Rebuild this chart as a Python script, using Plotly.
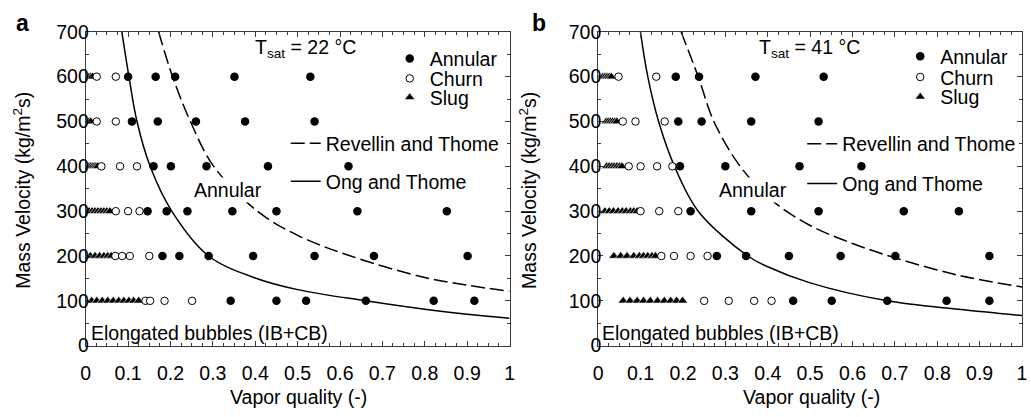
import plotly.graph_objects as go

W, H = 1031, 417

# ---------------- data: panel a (Tsat = 22 C) ----------------
A_ANN_X = [0.100, 0.165, 0.211, 0.351, 0.530,
           0.109, 0.170, 0.260, 0.376, 0.540,
           0.160, 0.201, 0.285, 0.430, 0.620,
           0.146, 0.191, 0.240, 0.346, 0.450, 0.641, 0.852,
           0.181, 0.221, 0.290, 0.395, 0.540, 0.680, 0.901,
           0.342, 0.450, 0.520, 0.661, 0.821, 0.917]
A_ANN_G = [600, 600, 600, 600, 600,
           500, 500, 500, 500, 500,
           400, 400, 400, 400, 400,
           300, 300, 300, 300, 300, 300, 300,
           200, 200, 200, 200, 200, 200, 200,
           100, 100, 100, 100, 100, 100]

A_CH_X = [0.026, 0.071,
          0.026, 0.071,
          0.037, 0.081, 0.121,
          0.071, 0.100, 0.127,
          0.070, 0.086, 0.104, 0.150,
          0.141, 0.152, 0.186, 0.251]
A_CH_G = [600, 600,
          500, 500,
          400, 400, 400,
          300, 300, 300,
          200, 200, 200, 200,
          100, 100, 100, 100]

A_SL_X = [0.008, 0.012, 0.016,
          0.008, 0.012,
          0.008, 0.012, 0.016, 0.020, 0.024, 0.028,
          0.008, 0.015, 0.022, 0.029, 0.036, 0.043, 0.050, 0.057,
          0.011, 0.022, 0.033, 0.043, 0.052, 0.060,
          0.014, 0.026, 0.039, 0.052, 0.065, 0.078, 0.090, 0.102, 0.113, 0.125]
A_SL_G = [600, 600, 600,
          500, 500,
          400, 400, 400, 400, 400, 400,
          300, 300, 300, 300, 300, 300, 300, 300,
          200, 200, 200, 200, 200, 200,
          100, 100, 100, 100, 100, 100, 100, 100, 100, 100]

A_ONG_X = [0.0853, 0.102, 0.121, 0.152, 0.203, 0.290, 0.400, 0.500, 0.661, 0.800, 0.900, 1.000]
A_ONG_G = [700, 600, 500, 400, 300, 200, 151, 125, 100, 81, 70, 61]
A_REV_X = [0.172, 0.205, 0.247, 0.302, 0.405, 0.500, 0.625, 0.800, 0.900, 1.000]
A_REV_G = [700, 600, 500, 400, 300, 246, 200, 152, 135, 121]

# ---------------- data: panel b (Tsat = 41 C) ----------------
B_ANN_X = [0.183, 0.238, 0.371, 0.532,
           0.189, 0.244, 0.361, 0.520,
           0.193, 0.300, 0.475, 0.621,
           0.218, 0.361, 0.520, 0.721, 0.851,
           0.280, 0.349, 0.450, 0.572, 0.701, 0.923,
           0.460, 0.551, 0.682, 0.822, 0.923]
B_ANN_G = [600, 600, 600, 600,
           500, 500, 500, 500,
           400, 400, 400, 400,
           300, 300, 300, 300, 300,
           200, 200, 200, 200, 200, 200,
           100, 100, 100, 100, 100]

B_CH_X = [0.048, 0.137,
          0.058, 0.088, 0.157,
          0.072, 0.100, 0.139, 0.175,
          0.100, 0.144, 0.189,
          0.149, 0.179, 0.218, 0.258,
          0.250, 0.308, 0.368, 0.409]
B_CH_G = [600, 600,
          500, 500, 500,
          400, 400, 400, 400,
          300, 300, 300,
          200, 200, 200, 200,
          100, 100, 100, 100]

B_SL_X = [0.011, 0.016, 0.021, 0.026, 0.031,
          0.019, 0.024, 0.029, 0.034, 0.039, 0.044,
          0.020, 0.026, 0.032, 0.038, 0.044, 0.050, 0.056,
          0.016, 0.026, 0.036, 0.047, 0.057, 0.066, 0.076, 0.084, 0.092,
          0.037, 0.053, 0.068, 0.084, 0.097, 0.107, 0.117, 0.127, 0.135,
          0.059, 0.075, 0.092, 0.107, 0.123, 0.140, 0.156, 0.171, 0.185, 0.199]
B_SL_G = [600, 600, 600, 600, 600,
          500, 500, 500, 500, 500, 500,
          400, 400, 400, 400, 400, 400, 400,
          300, 300, 300, 300, 300, 300, 300, 300, 300,
          200, 200, 200, 200, 200, 200, 200, 200, 200,
          100, 100, 100, 100, 100, 100, 100, 100, 100, 100]

B_ONG_X = [0.0997, 0.117, 0.1425, 0.180, 0.236, 0.353, 0.400, 0.500, 0.682, 0.850, 1.000]
B_ONG_G = [700, 600, 500, 400, 300, 200, 176, 140, 100, 81, 67]
B_REV_X = [0.1955, 0.236, 0.273, 0.335, 0.410, 0.500, 0.600, 0.700, 0.850, 1.000]
B_REV_G = [700, 600, 500, 400, 324, 268, 228, 196, 157, 131]

X_TICKS = [0, 0.1, 0.2, 0.3, 0.4, 0.5, 0.6, 0.7, 0.8, 0.9, 1]
X_TICKTEXT = ["0", "0.1", "0.2", "0.3", "0.4", "0.5", "0.6", "0.7", "0.8", "0.9", "1"]
Y_TICKS = [0, 100, 200, 300, 400, 500, 600, 700]

LEG_NAMES = ["Annular", "Churn", "Slug", "Revellin and Thome", "Ong and Thome"]
TSAT = ["22", "41"]
PANEL = ["a", "b"]

# ---------------- styling ----------------
FONT = "Liberation Sans, Arial, sans-serif"
FS = 19.5
FRAME = "#3a3a3a"
AX_L = [81.5, 599.0]   # left edge px of each panel
AX_W = 428.0
Y_TOP, Y_BOT = 22.0, 353.3


def px(x):
    return x / W


def py(y):
    return 1 - y / H


fig = go.Figure()

panels = [
    (A_ANN_X, A_ANN_G, A_CH_X, A_CH_G, A_SL_X, A_SL_G, A_ONG_X, A_ONG_G, A_REV_X, A_REV_G),
    (B_ANN_X, B_ANN_G, B_CH_X, B_CH_G, B_SL_X, B_SL_G, B_ONG_X, B_ONG_G, B_REV_X, B_REV_G),
]

for i, (ax_, ag_, cx_, cg_, sx_, sg_, ox_, og_, rx_, rg_) in enumerate(panels):
    xa = "x" if i == 0 else "x2"
    ya = "y" if i == 0 else "y2"
    base = 1 + 5 * i

    def lg(k, base=base):
        n = base + k
        return "legend" if n == 1 else f"legend{n}"

    fig.add_trace(go.Scatter(x=rx_, y=rg_, xaxis=xa, yaxis=ya, mode="lines",
                             line=dict(color="black", width=1.5, dash="14px,5px", shape="spline", smoothing=1.0),
                             name=LEG_NAMES[3], legend=lg(3)))
    fig.add_trace(go.Scatter(x=ox_, y=og_, xaxis=xa, yaxis=ya, mode="lines",
                             line=dict(color="black", width=1.5, shape="spline", smoothing=1.0),
                             name=LEG_NAMES[4], legend=lg(4)))
    fig.add_trace(go.Scatter(x=sx_, y=sg_, xaxis=xa, yaxis=ya, mode="markers",
                             marker=dict(symbol="triangle-up", size=9, color="black",
                                         line=dict(color="white", width=0.6)),
                             name=LEG_NAMES[2], legend=lg(2)))
    fig.add_trace(go.Scatter(x=cx_, y=cg_, xaxis=xa, yaxis=ya, mode="markers",
                             marker=dict(symbol="circle", size=7.5, color="white",
                                         line=dict(color="black", width=1)),
                             name=LEG_NAMES[1], legend=lg(1)))
    fig.add_trace(go.Scatter(x=ax_, y=ag_, xaxis=xa, yaxis=ya, mode="markers",
                             marker=dict(symbol="circle", size=8.5, color="black", line=dict(width=0)),
                             name=LEG_NAMES[0], legend=lg(0)))

axis_common = dict(showline=True, linecolor=FRAME, linewidth=1, mirror="allticks",
                   ticks="inside", tickcolor=FRAME, tickwidth=1, ticklen=5,
                   showgrid=False, zeroline=False,
                   tickfont=dict(family=FONT, size=FS, color="black"))

for i in range(2):
    xd = [px(AX_L[i]), px(AX_L[i] + AX_W)]
    yd = [py(Y_BOT), py(Y_TOP)]
    xkey = "xaxis" if i == 0 else "xaxis2"
    ykey = "yaxis" if i == 0 else "yaxis2"
    fig.update_layout(**{
        xkey: dict(axis_common, domain=xd, range=[0, 1], tickvals=X_TICKS, ticktext=X_TICKTEXT,
                   anchor="y" if i == 0 else "y2", ticklabelstandoff=10,
                   minor=dict(ticks="inside", dtick=0.025, tick0=0, ticklen=3, tickcolor=FRAME, showgrid=False)),
        ykey: dict(axis_common, domain=yd, range=[0, 700], tickvals=Y_TICKS,
                   anchor="x" if i == 0 else "x2", ticklabelstandoff=-8,
                   minor=dict(ticks="inside", dtick=50, tick0=0, ticklen=3, tickcolor=FRAME, showgrid=False)),
    })

# legends: one entry per legend box, placed like the reference
SPOTS = [
    [(388.5, 50.5), (388.5, 71.5), (388.5, 91.5), (283.5, 140.0), (283.5, 180.0)],
    [(904.0, 48.0), (904.0, 70.0), (904.0, 91.0), (805.0, 140.5), (805.0, 182.5)],
]
leg_layout = {}
for i in range(2):
    for k, (lx, ly) in enumerate(SPOTS[i]):
        n = 1 + 5 * i + k
        key = "legend" if n == 1 else f"legend{n}"
        leg_layout[key] = dict(x=px(lx), y=py(ly), xanchor="left", yanchor="middle",
                               xref="paper", yref="paper", bgcolor="rgba(0,0,0,0)",
                               borderwidth=0, itemwidth=30, tracegroupgap=0,
                               font=dict(family=FONT, size=FS, color="black"))
fig.update_layout(**leg_layout)

ann = []
for i in range(2):
    cx = AX_L[i] + AX_W / 2
    # panel letter
    ann.append(dict(x=px([9, 530][i]), y=py(13), xref="paper", yref="paper", text=f"<b>{PANEL[i]}</b>",
                    showarrow=False, xanchor="left", yanchor="middle",
                    font=dict(family=FONT, size=23, color="black")))
    # y title
    ann.append(dict(x=px([17, 528][i]), y=py(189), xref="paper", yref="paper",
                    text="Mass Velocity (kg/m<sup>2</sup>s)", textangle=-90, showarrow=False,
                    xanchor="center", yanchor="middle", font=dict(family=FONT, size=FS, color="black")))
    # x title
    ann.append(dict(x=px(cx + 1), y=py(408), xref="paper", yref="paper", text="Vapor quality (-)",
                    showarrow=False, xanchor="center", yanchor="middle",
                    font=dict(family=FONT, size=FS, color="black")))
    # Tsat
    ann.append(dict(x=px([250, 759][i]), y=py(40), xref="paper", yref="paper",
                    text=f"T<sub>sat</sub> = {TSAT[i]} °C", showarrow=False, xanchor="left", yanchor="middle",
                    font=dict(family=FONT, size=FS, color="black")))
    # regime labels
    ann.append(dict(x=px([189, 719][i]), y=py(188.5), xref="paper", yref="paper", text="Annular",
                    showarrow=False, xanchor="left", yanchor="middle", bgcolor="white", borderpad=1,
                    font=dict(family=FONT, size=FS, color="black")))
    ann.append(dict(x=px([85, 601][i]), y=py(340), xref="paper", yref="paper",
                    text="Elongated bubbles (IB+CB)", showarrow=False, xanchor="left", yanchor="middle",
                    font=dict(family=FONT, size=FS, color="black")))

fig.update_layout(
    width=W, height=H, margin=dict(l=0, r=0, t=0, b=0),
    paper_bgcolor="white", plot_bgcolor="white",
    annotations=ann, showlegend=True,
    font=dict(family=FONT, size=FS, color="black"),
)

fig.write_html("out.html")
